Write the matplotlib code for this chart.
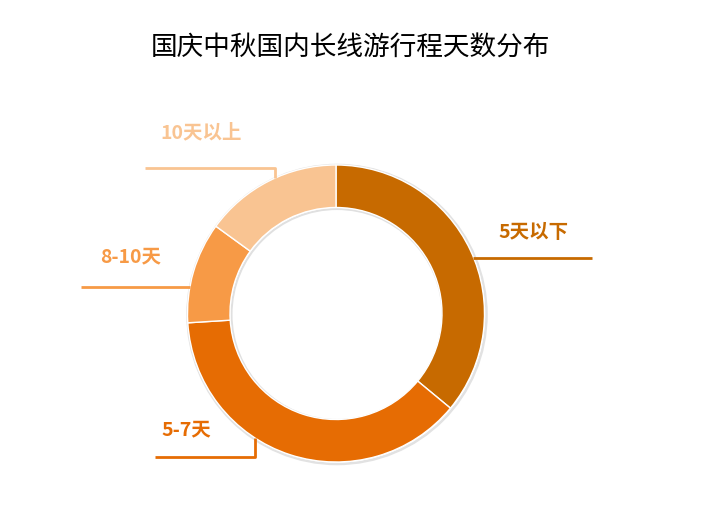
import matplotlib
matplotlib.use("Agg")
import matplotlib.pyplot as plt
from matplotlib.patches import Circle

plt.rcParams['font.family'] = ['Noto Sans CJK SC', 'DejaVu Sans']

# ── Data ────────────────────────────────────────────────────────────────
TITLE = "国庆中秋国内长线游行程天数分布"
CATEGORIES = ["5天以下", "5-7天", "8-10天", "10天以上"]
SHARES = [36, 38, 11, 15]
COLORS = ["#C76A00", "#E66C03", "#F79A46", "#F9C492"]

# ── Layout (pixel coords, y measured from the top) ──────────────────────
W, H = 726, 511
CENTER = (336, 313.5)
RADIUS = 148.5
RING_WIDTH = 42.5
# label text position and leader polyline for each category
LEADERS = {
    "5天以下": ((534, 232), [(473, 258), (592, 258)]),
    "5-7天": ((186, 430), [(155, 457), (255, 457), (255, 438)]),
    "8-10天": ((131, 257), [(81, 287), (190, 287)]),
    "10天以上": ((201, 133), [(145, 168), (275, 168), (275, 178)]),
}


def flip(y):
    return H - y


fig = plt.figure(figsize=(W / 100, H / 100), dpi=100)
ax = fig.add_axes([0, 0, 1, 1])

cx, cy = CENTER[0], flip(CENTER[1])

# soft shadow round the ring
ax.add_patch(Circle((cx + 1, cy - 1), RADIUS + 1, facecolor='none',
                    edgecolor='#e2e2e2', linewidth=1.8, zorder=1))
ax.add_patch(Circle((cx + 1, cy - 1), RADIUS - RING_WIDTH - 0.5, facecolor='none',
                    edgecolor='#e0e0e0', linewidth=1.5, zorder=1))

ax.pie(SHARES, colors=COLORS, startangle=90, counterclock=False,
       center=(cx, cy), radius=RADIUS, frame=True,
       wedgeprops=dict(width=RING_WIDTH, edgecolor='white', linewidth=1))
ax.set_xlim(0, W)
ax.set_ylim(0, H)
ax.set_aspect('equal')
ax.axis('off')

for name, color in zip(CATEGORIES, COLORS):
    (tx, ty), pts = LEADERS[name]
    xs = [p[0] for p in pts]
    ys = [flip(p[1]) for p in pts]
    ax.plot(xs, ys, color=color, linewidth=2, solid_capstyle='butt', zorder=3)
    ax.text(tx, flip(ty), name, color=color, fontsize=14, fontweight='bold',
            ha='center', va='center')

ax.text(W / 2 - 13, flip(48), TITLE, fontsize=19.2, color='black',
        ha='center', va='center')

fig.savefig('out.png', dpi=100)
